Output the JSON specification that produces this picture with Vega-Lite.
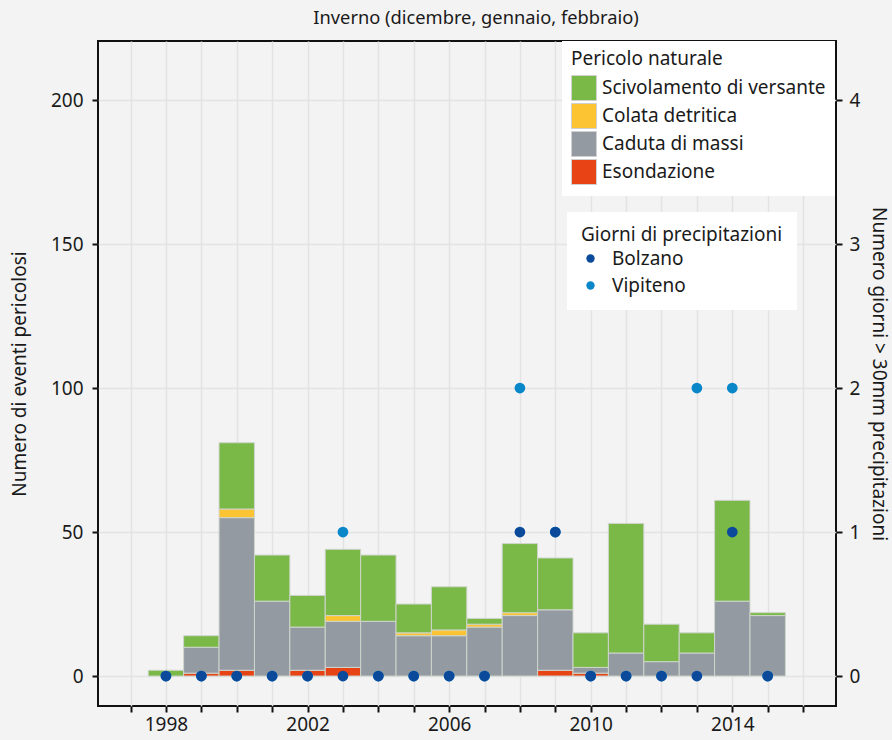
{
  "$schema": "https://vega.github.io/schema/vega-lite/v6.json",
  "width": 738,
  "height": 665,
  "autosize": {"type": "none"},
  "padding": {"left": 98, "top": 41, "right": 56, "bottom": 34},
  "background": "#f3f3f3",
  "config": {
    "font": "Noto Sans",
    "view": {"stroke": "#111111", "strokeWidth": 2, "fill": "#f3f3f3"},
    "axis": {
      "domain": false,
      "tickColor": "#111111",
      "tickWidth": 2,
      "tickSize": 6,
      "labelFontSize": 19,
      "labelColor": "#1a1a1a",
      "titleFontSize": 19,
      "titleFontWeight": "normal",
      "titleColor": "#1a1a1a",
      "gridColor": "#e3e3e3",
      "gridWidth": 1.5
    },
    "legend": {
      "labelFontSize": 19,
      "titleFontSize": 19,
      "titleFontWeight": "normal",
      "labelColor": "#1a1a1a",
      "titleColor": "#1a1a1a",
      "labelLimit": 400,
      "titleLimit": 400
    }
  },
  "title": {
    "text": "Inverno (dicembre, gennaio, febbraio)",
    "fontSize": 18.3,
    "fontWeight": "normal",
    "color": "#1a1a1a",
    "offset": 13,
    "dx": 9
  },
  "layer": [
    {
      "data": {
        "values": [
          {"anno": 1998, "tipo": "Scivolamento di versante", "n": 2},
          {"anno": 1999, "tipo": "Esondazione", "n": 1},
          {"anno": 1999, "tipo": "Caduta di massi", "n": 9},
          {"anno": 1999, "tipo": "Scivolamento di versante", "n": 4},
          {"anno": 2000, "tipo": "Esondazione", "n": 2},
          {"anno": 2000, "tipo": "Caduta di massi", "n": 53},
          {"anno": 2000, "tipo": "Colata detritica", "n": 3},
          {"anno": 2000, "tipo": "Scivolamento di versante", "n": 23},
          {"anno": 2001, "tipo": "Caduta di massi", "n": 26},
          {"anno": 2001, "tipo": "Scivolamento di versante", "n": 16},
          {"anno": 2002, "tipo": "Esondazione", "n": 2},
          {"anno": 2002, "tipo": "Caduta di massi", "n": 15},
          {"anno": 2002, "tipo": "Scivolamento di versante", "n": 11},
          {"anno": 2003, "tipo": "Esondazione", "n": 3},
          {"anno": 2003, "tipo": "Caduta di massi", "n": 16},
          {"anno": 2003, "tipo": "Colata detritica", "n": 2},
          {"anno": 2003, "tipo": "Scivolamento di versante", "n": 23},
          {"anno": 2004, "tipo": "Caduta di massi", "n": 19},
          {"anno": 2004, "tipo": "Scivolamento di versante", "n": 23},
          {"anno": 2005, "tipo": "Caduta di massi", "n": 14},
          {"anno": 2005, "tipo": "Colata detritica", "n": 1},
          {"anno": 2005, "tipo": "Scivolamento di versante", "n": 10},
          {"anno": 2006, "tipo": "Caduta di massi", "n": 14},
          {"anno": 2006, "tipo": "Colata detritica", "n": 2},
          {"anno": 2006, "tipo": "Scivolamento di versante", "n": 15},
          {"anno": 2007, "tipo": "Caduta di massi", "n": 17},
          {"anno": 2007, "tipo": "Colata detritica", "n": 1},
          {"anno": 2007, "tipo": "Scivolamento di versante", "n": 2},
          {"anno": 2008, "tipo": "Caduta di massi", "n": 21},
          {"anno": 2008, "tipo": "Colata detritica", "n": 1},
          {"anno": 2008, "tipo": "Scivolamento di versante", "n": 24},
          {"anno": 2009, "tipo": "Esondazione", "n": 2},
          {"anno": 2009, "tipo": "Caduta di massi", "n": 21},
          {"anno": 2009, "tipo": "Scivolamento di versante", "n": 18},
          {"anno": 2010, "tipo": "Esondazione", "n": 1},
          {"anno": 2010, "tipo": "Caduta di massi", "n": 2},
          {"anno": 2010, "tipo": "Scivolamento di versante", "n": 12},
          {"anno": 2011, "tipo": "Caduta di massi", "n": 8},
          {"anno": 2011, "tipo": "Scivolamento di versante", "n": 45},
          {"anno": 2012, "tipo": "Caduta di massi", "n": 5},
          {"anno": 2012, "tipo": "Scivolamento di versante", "n": 13},
          {"anno": 2013, "tipo": "Caduta di massi", "n": 8},
          {"anno": 2013, "tipo": "Scivolamento di versante", "n": 7},
          {"anno": 2014, "tipo": "Caduta di massi", "n": 26},
          {"anno": 2014, "tipo": "Scivolamento di versante", "n": 35},
          {"anno": 2015, "tipo": "Caduta di massi", "n": 21},
          {"anno": 2015, "tipo": "Scivolamento di versante", "n": 1}
        ]
      },
      "transform": [
        {"calculate": "indexof(['Esondazione','Caduta di massi','Colata detritica','Scivolamento di versante'], datum.tipo)", "as": "ordine"}
      ],
      "mark": {"type": "bar", "width": 35.4, "stroke": "#cfd5cc", "strokeWidth": 1},
      "encoding": {
        "x": {
          "field": "anno",
          "type": "quantitative",
          "scale": {"domain": [1996.08, 2016.93], "nice": false, "zero": false, "padding": 0},
          "axis": {
            "title": null,
            "tickCount": 21,
            "labelExpr": "datum.value % 4 == 2 ? format(datum.value, 'd') : ''",
            "labelOverlap": false,
            "labelPadding": 3,
            "grid": true
          }
        },
        "y": {
          "field": "n",
          "type": "quantitative",
          "stack": "zero",
          "scale": {"domain": [-10.4, 220.5], "nice": false, "zero": false},
          "axis": {
            "orient": "left",
            "values": [0, 50, 100, 150, 200],
            "title": "Numero di eventi pericolosi",
            "titlePadding": 21,
            "labelPadding": 9,
            "grid": true
          }
        },
        "color": {
          "field": "tipo",
          "type": "nominal",
          "scale": {
            "domain": ["Scivolamento di versante", "Colata detritica", "Caduta di massi", "Esondazione"],
            "range": ["#7ab848", "#fcc433", "#939aa1", "#e84315"]
          },
          "legend": {
            "title": "Pericolo naturale",
            "orient": "none",
            "legendX": 464,
            "legendY": 0,
            "fillColor": "white",
            "padding": 9,
            "symbolType": "square",
            "symbolSize": 625,
            "symbolStrokeColor": "#d0d0d0",
            "symbolStrokeWidth": 1,
            "symbolOpacity": 1,
            "rowPadding": -4,
            "labelOffset": 5,
            "titlePadding": 6
          }
        },
        "order": {"field": "ordine", "type": "quantitative", "sort": "ascending"}
      }
    },
    {
      "data": {
        "values": [
          {"anno": 1998, "stazione": "Bolzano", "giorni": 0},
          {"anno": 1999, "stazione": "Bolzano", "giorni": 0},
          {"anno": 2000, "stazione": "Bolzano", "giorni": 0},
          {"anno": 2001, "stazione": "Bolzano", "giorni": 0},
          {"anno": 2002, "stazione": "Bolzano", "giorni": 0},
          {"anno": 2003, "stazione": "Bolzano", "giorni": 0},
          {"anno": 2004, "stazione": "Bolzano", "giorni": 0},
          {"anno": 2005, "stazione": "Bolzano", "giorni": 0},
          {"anno": 2006, "stazione": "Bolzano", "giorni": 0},
          {"anno": 2007, "stazione": "Bolzano", "giorni": 0},
          {"anno": 2008, "stazione": "Bolzano", "giorni": 1},
          {"anno": 2009, "stazione": "Bolzano", "giorni": 1},
          {"anno": 2010, "stazione": "Bolzano", "giorni": 0},
          {"anno": 2011, "stazione": "Bolzano", "giorni": 0},
          {"anno": 2012, "stazione": "Bolzano", "giorni": 0},
          {"anno": 2013, "stazione": "Bolzano", "giorni": 0},
          {"anno": 2014, "stazione": "Bolzano", "giorni": 1},
          {"anno": 2015, "stazione": "Bolzano", "giorni": 0},
          {"anno": 1998, "stazione": "Vipiteno", "giorni": 0},
          {"anno": 1999, "stazione": "Vipiteno", "giorni": 0},
          {"anno": 2000, "stazione": "Vipiteno", "giorni": 0},
          {"anno": 2001, "stazione": "Vipiteno", "giorni": 0},
          {"anno": 2002, "stazione": "Vipiteno", "giorni": 0},
          {"anno": 2003, "stazione": "Vipiteno", "giorni": 1},
          {"anno": 2004, "stazione": "Vipiteno", "giorni": 0},
          {"anno": 2005, "stazione": "Vipiteno", "giorni": 0},
          {"anno": 2006, "stazione": "Vipiteno", "giorni": 0},
          {"anno": 2007, "stazione": "Vipiteno", "giorni": 0},
          {"anno": 2008, "stazione": "Vipiteno", "giorni": 2},
          {"anno": 2009, "stazione": "Vipiteno", "giorni": 1},
          {"anno": 2010, "stazione": "Vipiteno", "giorni": 0},
          {"anno": 2011, "stazione": "Vipiteno", "giorni": 0},
          {"anno": 2012, "stazione": "Vipiteno", "giorni": 0},
          {"anno": 2013, "stazione": "Vipiteno", "giorni": 2},
          {"anno": 2014, "stazione": "Vipiteno", "giorni": 2},
          {"anno": 2015, "stazione": "Vipiteno", "giorni": 0}
        ]
      },
      "mark": {"type": "point", "filled": true, "size": 115, "opacity": 1},
      "encoding": {
        "x": {"field": "anno", "type": "quantitative"},
        "y": {
          "field": "giorni",
          "type": "quantitative",
          "scale": {"domain": [-0.208, 4.41], "nice": false, "zero": false},
          "axis": {
            "orient": "right",
            "values": [0, 1, 2, 3, 4],
            "title": "Numero giorni > 30mm precipitazioni",
            "titlePadding": 9,
            "labelPadding": 7,
            "grid": false
          }
        },
        "color": {
          "field": "stazione",
          "type": "nominal",
          "scale": {"domain": ["Bolzano", "Vipiteno"], "range": ["#0b4a9b", "#0a87c9"]},
          "legend": {
            "title": "Giorni di precipitazioni",
            "orient": "none",
            "legendX": 469,
            "legendY": 171,
            "fillColor": "white",
            "padding": 14,
            "symbolType": "circle",
            "symbolSize": 70,
            "rowPadding": 7,
            "labelOffset": 12,
            "titlePadding": 4
          }
        },
        "order": {"field": "stazione", "sort": "descending"}
      }
    }
  ],
  "resolve": {"scale": {"y": "independent", "color": "independent"}}
}
